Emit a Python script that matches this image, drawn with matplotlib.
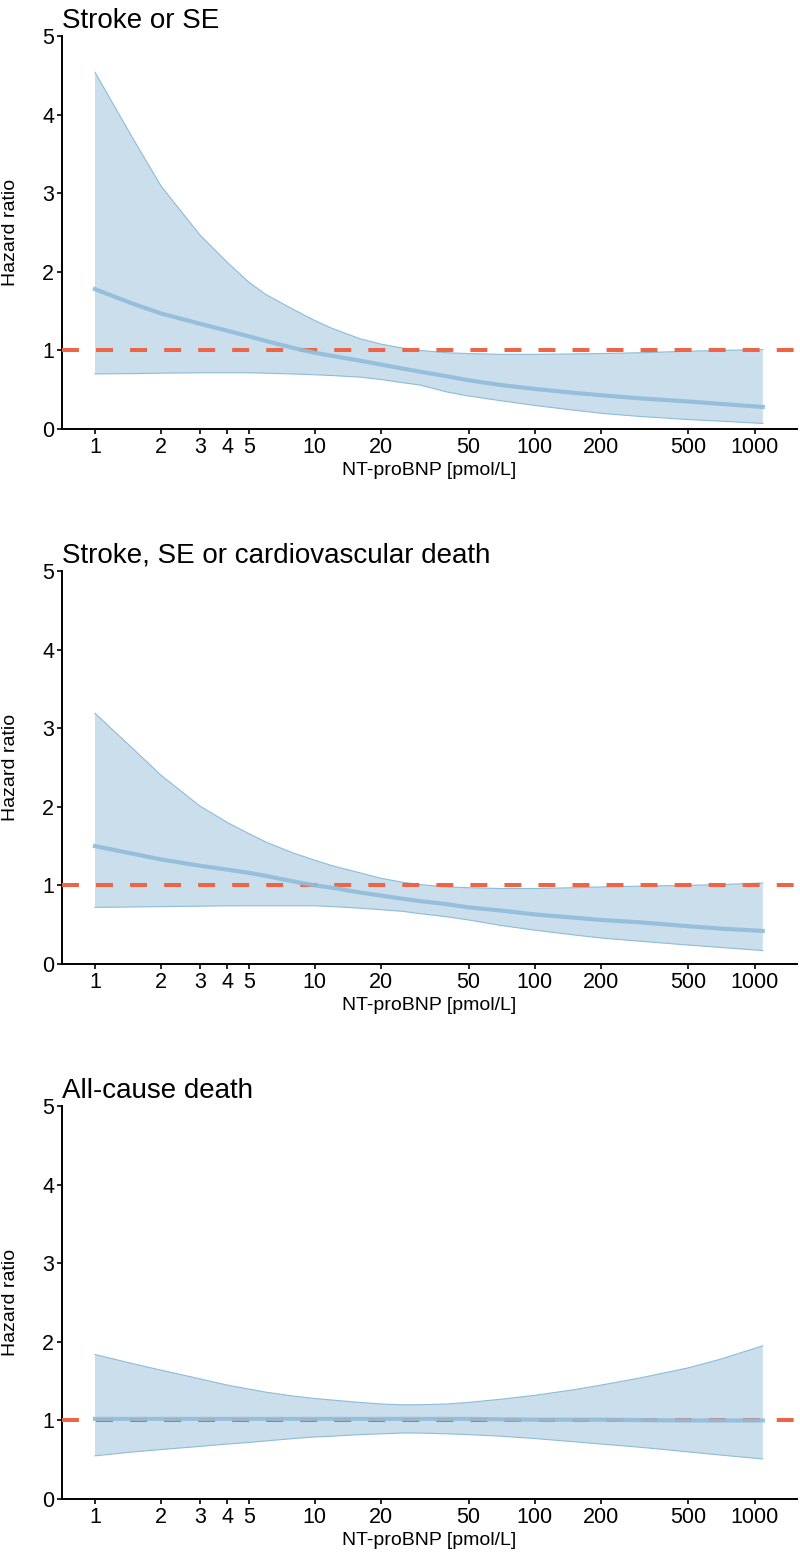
import matplotlib.pyplot as plt
import numpy as np

plt.rcParams['font.family'] = ['Liberation Sans', 'DejaVu Sans']

# NT-proBNP grid (pmol/L) and hazard ratio estimates
nt_probnp = [1, 1.5, 2, 3, 4, 5, 6, 8, 10, 12, 16, 20, 25, 30, 40, 50, 70, 100, 150, 200, 300, 500, 700, 1090]

titles = ['Stroke or SE', 'Stroke, SE or cardiovascular death', 'All-cause death']

hr_mean = [
    [1.78, 1.59, 1.47, 1.34, 1.25, 1.18, 1.12, 1.03, 0.97, 0.93, 0.87, 0.82, 0.77, 0.73, 0.67, 0.62,
     0.56, 0.51, 0.46, 0.43, 0.39, 0.35, 0.32, 0.28],
    [1.50, 1.40, 1.33, 1.25, 1.20, 1.16, 1.12, 1.05, 1.00, 0.97, 0.91, 0.87, 0.83, 0.80, 0.76, 0.72,
     0.68, 0.63, 0.59, 0.56, 0.53, 0.48, 0.45, 0.42],
    [1.02, 1.02, 1.02, 1.02, 1.02, 1.02, 1.02, 1.02, 1.02, 1.02, 1.02, 1.02, 1.02, 1.02, 1.02, 1.02,
     1.015, 1.01, 1.01, 1.01, 1.005, 1.00, 1.00, 1.00],
]
hr_upper = [
    [4.54, 3.68, 3.09, 2.47, 2.12, 1.87, 1.71, 1.52, 1.38, 1.28, 1.15, 1.08, 1.03, 1.00, 0.97, 0.96,
     0.95, 0.95, 0.955, 0.96, 0.97, 0.99, 1.00, 1.01],
    [3.19, 2.73, 2.40, 2.01, 1.80, 1.66, 1.55, 1.41, 1.32, 1.25, 1.16, 1.09, 1.04, 1.01, 0.98, 0.97,
     0.96, 0.96, 0.97, 0.98, 0.99, 1.00, 1.01, 1.03],
    [1.84, 1.72, 1.64, 1.53, 1.45, 1.40, 1.36, 1.31, 1.28, 1.26, 1.23, 1.21, 1.20, 1.20, 1.21, 1.23,
     1.27, 1.32, 1.39, 1.45, 1.54, 1.67, 1.78, 1.95],
]
hr_lower = [
    [0.70, 0.705, 0.71, 0.715, 0.715, 0.715, 0.71, 0.70, 0.69, 0.68, 0.66, 0.63, 0.59, 0.56, 0.47, 0.42,
     0.36, 0.30, 0.24, 0.20, 0.16, 0.12, 0.10, 0.07],
    [0.72, 0.725, 0.73, 0.735, 0.74, 0.74, 0.74, 0.74, 0.74, 0.73, 0.71, 0.69, 0.67, 0.64, 0.60, 0.56,
     0.49, 0.43, 0.37, 0.33, 0.29, 0.24, 0.21, 0.17],
    [0.55, 0.60, 0.63, 0.67, 0.70, 0.72, 0.74, 0.77, 0.79, 0.80, 0.82, 0.83, 0.84, 0.84, 0.83, 0.82,
     0.80, 0.77, 0.73, 0.70, 0.66, 0.60, 0.56, 0.51],
]

xticks = [1, 2, 3, 4, 5, 10, 20, 50, 100, 200, 500, 1000]

fill_col = '#cadeeb'
edge_col = '#8dbcdb'
line_col = '#92bddb'
ref_col = '#ee6446'

fig = plt.figure(figsize=(8, 15.56), dpi=100)
bottoms = [0.7243, 0.3805, 0.0366]

for i in range(3):
    ax = fig.add_axes([0.0775, bottoms[i], 0.9188, 0.2525])
    x = np.array(nt_probnp)
    ax.fill_between(x, hr_lower[i], hr_upper[i], facecolor=fill_col, edgecolor='none', zorder=1)
    ax.plot(x, hr_upper[i], color=edge_col, linewidth=0.8, zorder=2)
    ax.plot(x, hr_lower[i], color=edge_col, linewidth=0.8, zorder=2)
    ax.axhline(1, color=ref_col, linestyle=(0, (4.2, 4.25)), linewidth=2.9, zorder=3)
    ax.plot(x, hr_mean[i], color=line_col, linewidth=3, alpha=0.92, zorder=4)

    ax.set_xscale('log')
    ax.set_xlim(0.708, 1560)
    ax.set_ylim(0, 5)
    ax.set_xticks(xticks)
    ax.set_xticklabels([str(t) for t in xticks])
    ax.xaxis.set_minor_locator(plt.NullLocator())
    ax.set_yticks([0, 1, 2, 3, 4, 5])
    ax.tick_params(axis='both', labelsize=15.5, length=3.6, width=1.2, colors='black', pad=2)
    for s in ['top', 'right']:
        ax.spines[s].set_visible(False)
    for s in ['left', 'bottom']:
        ax.spines[s].set_linewidth(1.4)
    ax.set_xlabel('NT-proBNP [pmol/L]', fontsize=14)
    ax.xaxis.set_label_coords(0.5, -0.084)
    ax.set_ylabel('Hazard ratio', fontsize=14)
    ax.yaxis.set_label_coords(-0.058, 0.5)
    ax.set_title(titles[i], loc='left', fontsize=20, pad=6)

fig.savefig('out.png', dpi=100)
